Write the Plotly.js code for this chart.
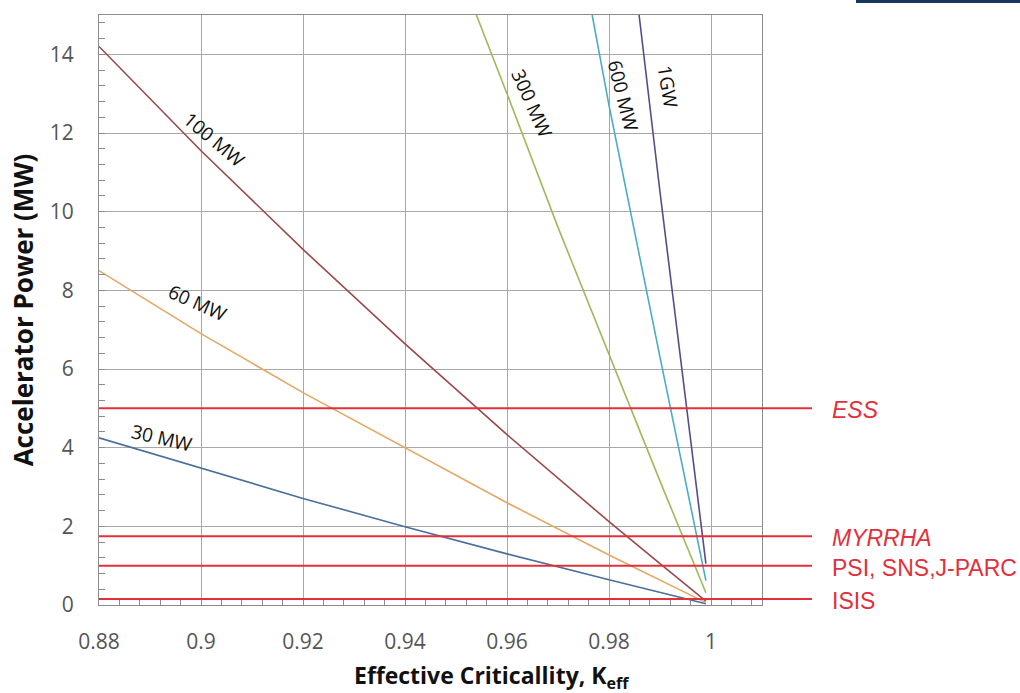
<!DOCTYPE html>
<html>
<head>
<meta charset="utf-8">
<script src="https://cdn.plot.ly/plotly-3.0.1.min.js"></script>
<style>html,body{margin:0;padding:0;background:#fff;}#chart{width:1020px;height:693px;}</style>
</head>
<body>
<div id="chart"></div>
<script>
// Effective criticality (x) and accelerator power in MW (y)
const k_low = [0.88, 0.90, 0.92, 0.94, 0.96, 0.98, 0.99, 0.999];
const p_30MW = [4.25, 3.47, 2.71, 1.99, 1.30, 0.64, 0.32, 0.03];
const p_60MW = [8.5, 6.9, 5.4, 4.0, 2.6, 1.27, 0.63, 0.06];
const p_100MW = [14.2, 11.55, 9.04, 6.64, 4.33, 2.12, 1.05, 0.10];
const k_300MW = [0.954, 0.96, 0.97, 0.98, 0.99, 0.999];
const p_300MW = [15.0, 13.0, 9.6, 6.35, 3.15, 0.31];
const k_600MW = [0.9767, 0.98, 0.99, 0.999];
const p_600MW = [15.0, 12.7, 6.3, 0.62];
const k_1GW = [0.9859, 0.99, 0.995, 0.999];
const p_1GW = [15.0, 10.5, 5.25, 1.05];

// Facility beam powers (MW)
const facilities = ["ESS", "MYRRHA", "PSI, SNS,J-PARC", "ISIS"];
const facilityPower = [5.0, 1.75, 1.0, 0.15];
const facilityItalic = [true, true, false, false];

const xTickVals = [0.88, 0.90, 0.92, 0.94, 0.96, 0.98, 1.0];
const xTickText = ["0.88", "0.9", "0.92", "0.94", "0.96", "0.98", "1"];
const yTickVals = [0, 2, 4, 6, 8, 10, 12, 14];

const seriesNames = ["30 MW", "60 MW", "100 MW", "300 MW", "600 MW", "1GW"];
const seriesX = [k_low, k_low, k_low, k_300MW, k_600MW, k_1GW];
const seriesY = [p_30MW, p_60MW, p_100MW, p_300MW, p_600MW, p_1GW];
const seriesColors = ["#4a6f9c", "#e3a866", "#9a4a48", "#9bbb59", "#4bacc6", "#5b4a86"];

const traces = seriesNames.map((n, i) => ({
  type: "scatter", mode: "lines", name: n,
  x: seriesX[i], y: seriesY[i],
  line: {color: seriesColors[i], width: 1.6},
  hoverinfo: "x+y+name"
}));

const shapes = facilityPower.map(p => ({
  type: "line", xref: "paper", yref: "y",
  x0: 0, x1: 1.0754, y0: p, y1: p,
  line: {color: "#e2303a", width: 2}
}));
shapes.push({type: "rect", xref: "paper", yref: "paper",
  x0: 1.1418, x1: 1.40, y0: 1.0203, y1: 1.0305,
  fillcolor: "#17375e", line: {width: 0}});

const labelFont = {family: "Open Sans, sans-serif", size: 19, color: "#111"};
const annotations = [
  {text: "100 MW", x: 0.9027, y: 11.83, textangle: 40},
  {text: "60 MW", x: 0.8994, y: 7.69, textangle: 24},
  {text: "30 MW", x: 0.8924, y: 4.25, textangle: 13},
  {text: "300 MW", x: 0.9649, y: 12.73, textangle: 66},
  {text: "600 MW", x: 0.9827, y: 12.93, textangle: 76},
  {text: "1GW", x: 0.9916, y: 13.18, textangle: 81}
].map(a => Object.assign({xref: "x", yref: "y", showarrow: false, font: labelFont}, a));

facilities.forEach((f, i) => {
  annotations.push({
    text: facilityItalic[i] ? "<i>" + f + "</i>" : f,
    xref: "paper", yref: "y", x: 1.1026, y: facilityPower[i] - 0.05,
    xanchor: "left", yanchor: "middle", showarrow: false,
    font: {family: "Liberation Sans, Arial, sans-serif", size: 23, color: "#e2303a"}
  });
});

annotations.push({
  text: "<b>Effective Criticallity, K<sub>eff</sub></b>",
  xref: "paper", yref: "paper", x: 0.593, y: -0.122,
  xanchor: "center", yanchor: "middle", showarrow: false,
  font: {family: "Open Sans, sans-serif", size: 23, color: "#111"}
});

const axisCommon = {
  showline: true, linecolor: "#8c8c8c", linewidth: 1, mirror: true,
  showgrid: true, gridcolor: "#a8a8a8", gridwidth: 1,
  zeroline: false, ticks: "inside", ticklen: 6, tickcolor: "#8c8c8c",
  tickfont: {family: "Open Sans, sans-serif", size: 21, color: "#555"}
};

const layout = {
  width: 1020, height: 693,
  margin: {l: 99, r: 258, t: 15, b: 88},
  paper_bgcolor: "#ffffff", plot_bgcolor: "#ffffff",
  showlegend: false,
  xaxis: Object.assign({}, axisCommon, {
    range: [0.88, 1.01], tickvals: xTickVals, ticktext: xTickText,
    ticklabelstandoff: 18,
    minor: {dtick: 0.004, tick0: 0.88, ticks: "inside", ticklen: 5, tickcolor: "#8c8c8c", showgrid: false}
  }),
  yaxis: Object.assign({}, axisCommon, {
    range: [0, 15], tickvals: yTickVals,
    ticklabelstandoff: 20,
    title: {text: "<b>Accelerator Power (MW)</b>", standoff: 8,
      font: {family: "Open Sans, sans-serif", size: 26, color: "#111"}},
    minor: {dtick: 0.4, tick0: 0, ticks: "inside", ticklen: 6, tickcolor: "#8c8c8c", showgrid: false}
  }),
  shapes: shapes,
  annotations: annotations
};

Plotly.newPlot("chart", traces, layout, {displayModeBar: false, staticPlot: true});
</script>
</body>
</html>
